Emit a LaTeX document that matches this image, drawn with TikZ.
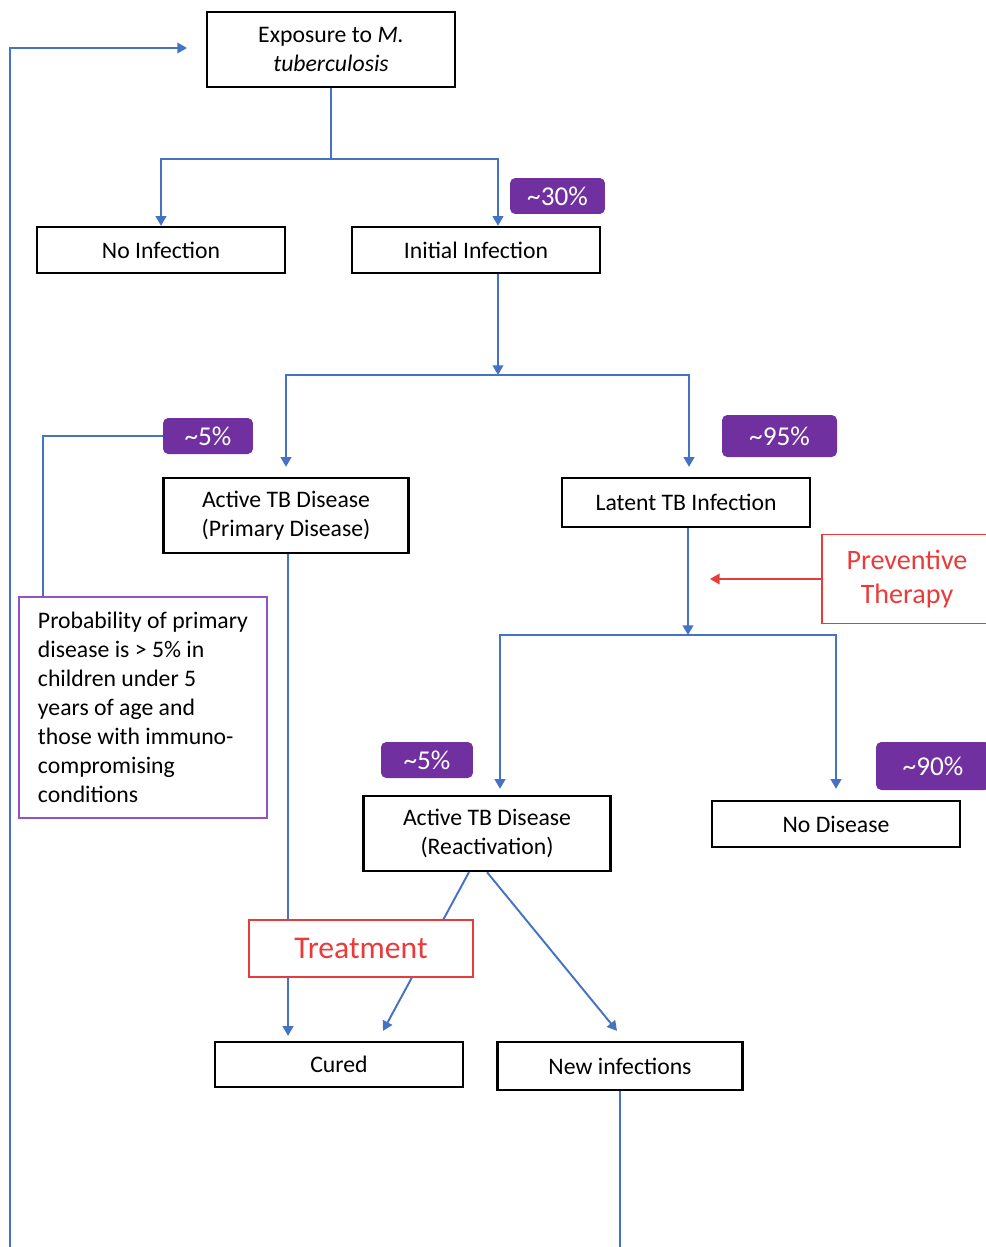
\documentclass[tikz,border=0pt]{standalone}
\usepackage{fontspec}
\setmainfont{Carlito}
\usetikzlibrary{arrows.meta,backgrounds}
\definecolor{flowblue}{RGB}{68,114,196}
\definecolor{tbred}{RGB}{234,59,59}
\definecolor{badgepurple}{RGB}{112,48,160}
\definecolor{notepurple}{RGB}{150,82,196}
\begin{document}
\begin{tikzpicture}[x=0.02cm,y=-0.02cm,
  box/.style={draw=black,line width=1.3pt,fill=white,minimum width=4.96cm,align=center,inner sep=0pt,font=\fontsize{13.5}{16.5}\selectfont},
  badge/.style={fill=badgepurple,rounded corners=3pt,text=white,inner sep=0pt,font=\fontsize{15.5}{18}\selectfont},
  redbox/.style={draw=tbred,line width=1.1pt,fill=white,text=tbred,align=center,inner sep=0pt},
  flow/.style={draw=flowblue,line width=1.1pt},
  flowarrow/.style={-{Triangle[width=6pt,length=5.5pt]}}]
   \useasboundingbox (0,0) rectangle (986,1247);
   \node[box,minimum height=1.5cm] (expo) at (331,49.5) {Exposure to \textit{M.}\\\textit{tuberculosis}};
   \node[box,minimum height=0.92cm] (noinf) at (161,250) {No Infection};
   \node[box,minimum height=0.92cm] (initinf) at (476,250) {Initial Infection};
   \node[box,minimum width=4.9cm,minimum height=1.5cm] (primary) at (286,515.5) {Active TB Disease\\(Primary Disease)};
   \node[box,minimum height=0.98cm] (latent) at (686,502.5) {Latent TB Infection};
   \node[box,minimum width=4.94cm,minimum height=1.5cm] (reactiv) at (487,833.5) {Active TB Disease\\(Reactivation)};
   \node[box,minimum height=0.92cm] (nodis) at (836,824) {No Disease};
   \node[box,minimum height=0.9cm] (cured) at (339,1064.5) {Cured};
   \node[box,minimum width=4.9cm,minimum height=0.96cm] (newinf) at (620,1066) {New infections};
   \node[draw=notepurple,line width=1.1pt,minimum width=4.96cm,minimum height=4.42cm,align=left,inner sep=0pt,
     font=\fontsize{13.5}{16.5}\selectfont] (note) at (143,707.5)
     {Probability of primary\\disease is > 5\% in\\children under 5\\years of age and\\those with immuno-\\compromising\\conditions};
   \node[redbox,minimum width=4.48cm,minimum height=1.14cm,font=\fontsize{18}{22}\selectfont] (treat) at (361,948.5) {Treatment};
   \node[redbox,minimum width=3.4cm,minimum height=1.78cm,font=\fontsize{16}{19.5}\selectfont] (prevent) at (907,579) {Preventive\\Therapy};
   \foreach \name/\pos/\w/\h/\txt in
     {b30/{557.5,196}/1.9/0.72/30,
      b5a/{208,436}/1.8/0.72/5,
      b95/{779.5,436}/2.3/0.84/95,
      b5b/{427,760}/1.84/0.72/5,
      b90/{933,766}/2.28/0.96/90}
     \node[badge,minimum width=\w cm,minimum height=\h cm] (\name) at (\pos) {\textasciitilde\txt\%};
   \begin{scope}[on background layer]
   \coordinate (split1) at (331,159);
   \coordinate (split2) at (498,375);
   \coordinate (split3) at (688,635);
   \coordinate (prevtip) at (710,579);
   \coordinate (newbot) at (620,1247);
   \coordinate (loopbot) at (10,1247);
   \coordinate (loopend) at (187,48);
   \draw[flow] (expo.south) -- (split1);
   \draw[flow,flowarrow] (split1) -| (noinf.north);
   \draw[flow,flowarrow] (split1) -| ([xshift=0.44cm]initinf.north);
   \draw[flow,flowarrow] ([xshift=0.44cm]initinf.south) -- (split2);
   \draw[flow,flowarrow,shorten >=0.2cm] (split2) -| (primary.north);
   \draw[flow,flowarrow,shorten >=0.2cm] (split2) -| ([xshift=0.06cm]latent.north);
   \draw[flow] (b5a.west) -| ([xshift=-2cm]note.north);
   \draw[flow,flowarrow,shorten >=0.1cm] ([xshift=0.04cm]primary.south) -- ([xshift=-1.02cm]cured.north);
   \draw[flow,flowarrow] ([xshift=0.04cm]latent.south) -- (split3);
   \draw[flow,flowarrow,shorten >=0.12cm] (split3) -| ([xshift=0.26cm]reactiv.north);
   \draw[flow,flowarrow,shorten >=0.22cm] (split3) -| (nodis.north);
   \draw[flow,flowarrow] ([xshift=-0.36cm]reactiv.south) -- ([xshift=0.88cm,yshift=0.2cm]cured.north);
   \draw[flow,flowarrow] (reactiv.south) -- ([xshift=-0.06cm,yshift=0.2cm]newinf.north);
   \draw[flow] (newinf.south) -- (newbot);
   \draw[flow,flowarrow] (loopbot) |- (loopend);
   \draw[draw=tbred,line width=1.1pt,flowarrow] (prevent.west) -- (prevtip);
   \end{scope}
\end{tikzpicture}
\end{document}
